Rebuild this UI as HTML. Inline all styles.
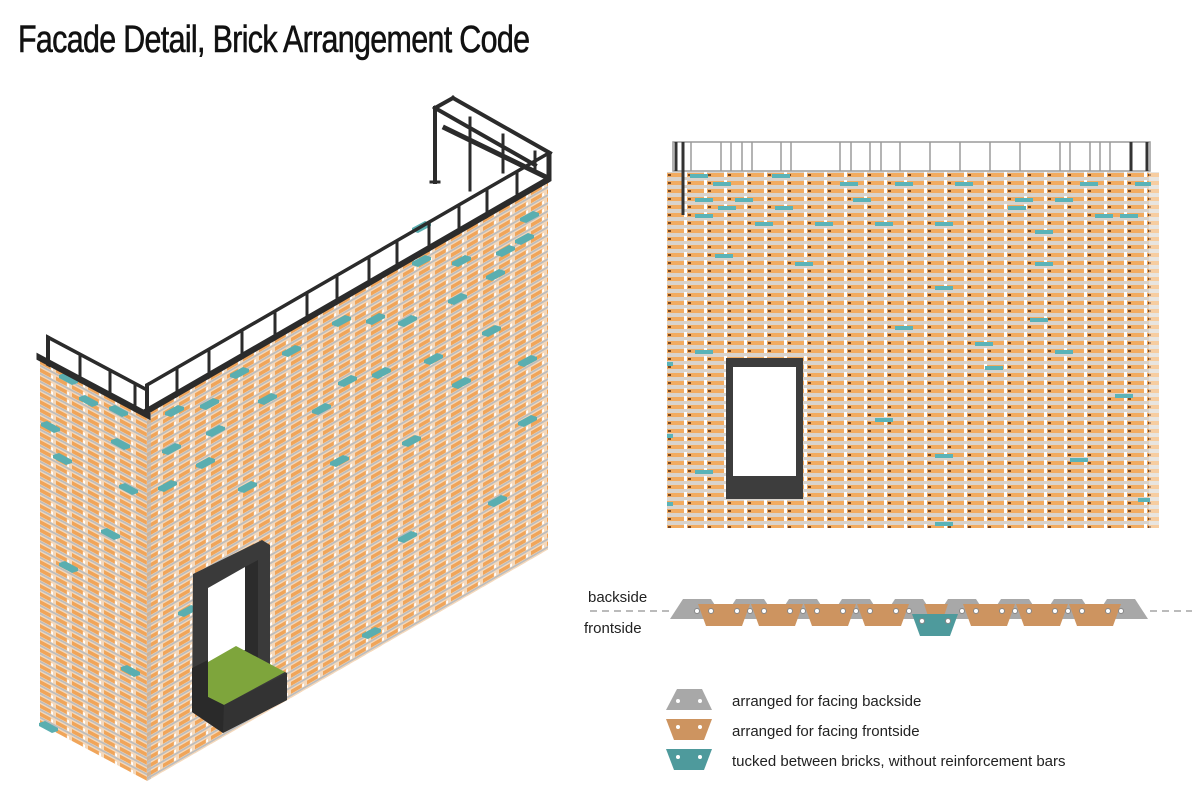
<!DOCTYPE html>
<html><head><meta charset="utf-8"><style>
html,body{margin:0;padding:0;background:#fff;}
svg{display:block;}
text{font-family:"Liberation Sans",sans-serif;}
</style></head><body>
<svg width="1200" height="785" viewBox="0 0 1200 785" xmlns="http://www.w3.org/2000/svg">
<defs>
<pattern id="elev" x="667" y="172" width="20" height="8" patternUnits="userSpaceOnUse">
<rect width="20" height="8" fill="#d9d3cc"/>
<rect x="0" y="1" width="17" height="4" fill="#f2ab60"/>
<rect x="17" y="0" width="3" height="5" fill="#fff"/>
<rect x="1" y="2" width="3" height="2" fill="#7a4a25"/>
</pattern>
<pattern id="iso" width="16" height="8" patternUnits="userSpaceOnUse">
<rect width="16" height="8" fill="#f4d8bb"/>
<rect x="0" y="0" width="11" height="4" fill="#f0a55a"/>
<rect x="0" y="4.5" width="16" height="2" fill="#bdbdbd"/>
<rect x="11" y="1" width="2" height="3" fill="#fff"/>
</pattern>
<polygon id="tf" points="0,0 13,-7 19,-5 19,-2 6,5 0,3" fill="#5aaeb0"/>
<polygon id="tl" points="0,0 -13,-7 -19,-5 -19,-2 -6,5 0,3" fill="#5aaeb0"/>
</defs>

<text x="18" y="52" font-size="38" fill="#111" stroke="#111" stroke-width="0.6" transform="translate(18,0) scale(0.8,1) translate(-18,0)" textLength="640">Facade Detail, Brick Arrangement Code</text>

<!-- ISO left face -->
<g transform="translate(40,360) skewY(28)">
<rect x="0" y="0" width="107" height="364" fill="url(#iso)"/>
</g>
<!-- ISO front face -->
<g transform="translate(147,413) skewY(-30)">
<rect x="0" y="0" width="401" height="368" fill="url(#iso)"/>
<rect x="0" y="0" width="4" height="368" fill="#bbb" opacity="0.6"/>
</g>
<!-- teal on front -->
<g>
<use href="#tf" x="165" y="412"/><use href="#tf" x="200" y="405"/><use href="#tf" x="230" y="374"/>
<use href="#tf" x="282" y="352"/><use href="#tf" x="332" y="322"/><use href="#tf" x="366" y="320"/>
<use href="#tf" x="398" y="322"/><use href="#tf" x="448" y="300"/><use href="#tf" x="486" y="276"/>
<use href="#tf" x="515" y="240"/><use href="#tf" x="162" y="450"/><use href="#tf" x="206" y="432"/>
<use href="#tf" x="258" y="400"/><use href="#tf" x="312" y="410"/><use href="#tf" x="338" y="382"/>
<use href="#tf" x="372" y="374"/><use href="#tf" x="424" y="360"/><use href="#tf" x="482" y="332"/>
<use href="#tf" x="496" y="252"/><use href="#tf" x="412" y="262"/><use href="#tf" x="452" y="262"/>
<use href="#tf" x="158" y="487"/><use href="#tf" x="238" y="488"/><use href="#tf" x="330" y="462"/>
<use href="#tf" x="402" y="442"/><use href="#tf" x="452" y="384"/><use href="#tf" x="518" y="362"/>
<use href="#tf" x="518" y="422"/><use href="#tf" x="488" y="502"/><use href="#tf" x="398" y="538"/>
<use href="#tf" x="178" y="612"/><use href="#tf" x="362" y="634"/><use href="#tf" x="196" y="464"/>
<use href="#tf" x="412" y="228"/><use href="#tf" x="520" y="218"/>
</g>
<!-- teal on left -->
<g>
<use href="#tl" x="78" y="380"/><use href="#tl" x="98" y="402"/><use href="#tl" x="128" y="412"/>
<use href="#tl" x="60" y="428"/><use href="#tl" x="130" y="445"/><use href="#tl" x="138" y="490"/>
<use href="#tl" x="72" y="460"/><use href="#tl" x="78" y="568"/><use href="#tl" x="140" y="672"/>
<use href="#tl" x="58" y="728"/><use href="#tl" x="120" y="535"/>
</g>

<!-- railing -->
<g stroke="#2b2b2b" fill="none" stroke-linecap="square">
<line x1="453" y1="98" x2="550" y2="153" stroke-width="4"/>
<line x1="435" y1="108" x2="535" y2="165" stroke-width="4"/>
<line x1="435" y1="108" x2="453" y2="98" stroke-width="4"/>
<line x1="445" y1="128" x2="548" y2="178" stroke-width="5"/>
<line x1="435" y1="108" x2="435" y2="182" stroke-width="4"/>
<line x1="431" y1="182" x2="439" y2="182" stroke-width="3"/>
<line x1="470" y1="118" x2="470" y2="190" stroke-width="3"/>
<line x1="503" y1="135" x2="503" y2="172" stroke-width="3"/>
<line x1="535" y1="152" x2="535" y2="168" stroke-width="3"/>
<line x1="550" y1="153" x2="550" y2="178" stroke-width="3"/>
<g transform="translate(147,413) skewY(-30)">
<line x1="0" y1="-28" x2="401" y2="-28" stroke-width="4"/>
<line x1="0" y1="-2" x2="401" y2="-2" stroke-width="7"/>
<line x1="0" y1="-28" x2="0" y2="0" stroke-width="4"/>
<line x1="30" y1="-28" x2="30" y2="0" stroke-width="3"/>
<line x1="62" y1="-28" x2="62" y2="0" stroke-width="3"/>
<line x1="95" y1="-28" x2="95" y2="0" stroke-width="3"/>
<line x1="128" y1="-28" x2="128" y2="0" stroke-width="3"/>
<line x1="160" y1="-28" x2="160" y2="0" stroke-width="3"/>
<line x1="190" y1="-28" x2="190" y2="0" stroke-width="3"/>
<line x1="222" y1="-28" x2="222" y2="0" stroke-width="3"/>
<line x1="250" y1="-28" x2="250" y2="0" stroke-width="3"/>
<line x1="282" y1="-28" x2="282" y2="0" stroke-width="3"/>
<line x1="312" y1="-28" x2="312" y2="0" stroke-width="3"/>
<line x1="340" y1="-28" x2="340" y2="0" stroke-width="3"/>
<line x1="370" y1="-28" x2="370" y2="0" stroke-width="3"/>
<line x1="401" y1="-28" x2="401" y2="0" stroke-width="3"/>
</g>
<g transform="translate(40,360) skewY(28)">
<line x1="8" y1="-27" x2="107" y2="-27" stroke-width="4"/>
<line x1="0" y1="-2" x2="107" y2="-2" stroke-width="7"/>
<line x1="8" y1="-27" x2="8" y2="0" stroke-width="4"/>
<line x1="40" y1="-27" x2="40" y2="0" stroke-width="3"/>
<line x1="70" y1="-27" x2="70" y2="0" stroke-width="3"/>
<line x1="95" y1="-27" x2="95" y2="0" stroke-width="3"/>
</g>
</g>

<!-- door -->
<polygon points="193,574 262,540 270,545 270,665 287,673 287,700 223,733 192,712" fill="#3a3a3a"/>
<polygon points="208,588 245,567 245,650 208,664" fill="#fff"/>
<polygon points="245,567 258,560 258,660 245,655" fill="#2c2c2c"/>
<polygon points="208,662 236,646 285,672 224,705 208,697" fill="#7ea53c"/>
<polygon points="224,705 287,673 287,700 223,733" fill="#333"/>
<polygon points="192,712 223,733 224,705 208,697 208,660 192,668" fill="#2a2a2a"/>

<!-- ELEVATION -->
<rect x="667" y="172" width="482" height="356" fill="url(#elev)"/>
<rect x="1149" y="172" width="10" height="356" fill="url(#elev)" opacity="0.6"/>
<g fill="#5ab3b8">
<rect x="690" y="174" width="18" height="4"/><rect x="772" y="174" width="18" height="4"/>
<rect x="713" y="182" width="18" height="4"/><rect x="840" y="182" width="18" height="4"/>
<rect x="895" y="182" width="18" height="4"/><rect x="955" y="182" width="18" height="4"/>
<rect x="1080" y="182" width="18" height="4"/><rect x="1135" y="182" width="16" height="4"/>
<rect x="695" y="198" width="18" height="4"/><rect x="735" y="198" width="18" height="4"/>
<rect x="853" y="198" width="18" height="4"/><rect x="1015" y="198" width="18" height="4"/>
<rect x="1055" y="198" width="18" height="4"/><rect x="718" y="206" width="18" height="4"/>
<rect x="775" y="206" width="18" height="4"/><rect x="1008" y="206" width="18" height="4"/>
<rect x="695" y="214" width="18" height="4"/><rect x="1095" y="214" width="18" height="4"/>
<rect x="1120" y="214" width="18" height="4"/><rect x="755" y="222" width="18" height="4"/>
<rect x="815" y="222" width="18" height="4"/><rect x="875" y="222" width="18" height="4"/>
<rect x="935" y="222" width="18" height="4"/><rect x="1035" y="230" width="18" height="4"/>
<rect x="715" y="254" width="18" height="4"/><rect x="795" y="262" width="18" height="4"/>
<rect x="1035" y="262" width="18" height="4"/><rect x="935" y="286" width="18" height="4"/>
<rect x="1030" y="318" width="18" height="4"/><rect x="895" y="326" width="18" height="4"/>
<rect x="975" y="342" width="18" height="4"/><rect x="695" y="350" width="18" height="4"/>
<rect x="1055" y="350" width="18" height="4"/><rect x="985" y="366" width="18" height="4"/>
<rect x="1115" y="394" width="18" height="4"/><rect x="875" y="418" width="18" height="4"/>
<rect x="935" y="454" width="18" height="4"/><rect x="1070" y="458" width="18" height="4"/>
<rect x="695" y="470" width="18" height="4"/><rect x="1138" y="498" width="12" height="4"/>
<rect x="935" y="522" width="18" height="4"/><rect x="667" y="362" width="6" height="4"/>
<rect x="667" y="434" width="6" height="4"/><rect x="667" y="502" width="6" height="4"/>
</g>
<g stroke="#9a9a9a" stroke-width="1.5" fill="none">
<rect x="673" y="142" width="477" height="29"/>
<line x1="691" y1="142" x2="691" y2="171"/><line x1="721" y1="142" x2="721" y2="171"/>
<line x1="731" y1="142" x2="731" y2="171"/><line x1="742" y1="142" x2="742" y2="171"/>
<line x1="752" y1="142" x2="752" y2="171"/><line x1="781" y1="142" x2="781" y2="171"/>
<line x1="791" y1="142" x2="791" y2="171"/><line x1="840" y1="142" x2="840" y2="171"/>
<line x1="851" y1="142" x2="851" y2="171"/><line x1="870" y1="142" x2="870" y2="171"/>
<line x1="881" y1="142" x2="881" y2="171"/><line x1="900" y1="142" x2="900" y2="171"/>
<line x1="930" y1="142" x2="930" y2="171"/><line x1="960" y1="142" x2="960" y2="171"/>
<line x1="990" y1="142" x2="990" y2="171"/><line x1="1020" y1="142" x2="1020" y2="171"/>
<line x1="1060" y1="142" x2="1060" y2="171"/><line x1="1070" y1="142" x2="1070" y2="171"/>
<line x1="1090" y1="142" x2="1090" y2="171"/><line x1="1100" y1="142" x2="1100" y2="171"/>
<line x1="1110" y1="142" x2="1110" y2="171"/>
</g>
<g stroke="#333" stroke-width="3">
<line x1="676" y1="142" x2="676" y2="171"/><line x1="683" y1="142" x2="683" y2="215"/>
<line x1="1131" y1="142" x2="1131" y2="171"/><line x1="1147" y1="142" x2="1147" y2="171"/>
</g>
<rect x="726" y="358" width="77" height="141" fill="#3d3d3d"/>
<rect x="733" y="367" width="63" height="109" fill="#fff"/>

<!-- SECTION -->
<text x="588" y="602" font-size="15" fill="#222">backside</text>
<text x="584" y="633" font-size="15" fill="#222">frontside</text>
<g stroke="#777" stroke-width="1" stroke-dasharray="7,5">
<line x1="590" y1="611" x2="670" y2="611"/><line x1="1150" y1="611" x2="1192" y2="611"/>
</g>
<g fill="#a8a8a8">
<polygon points="683,599 711,599 724,619 670,619"/>
<polygon points="736,599 764,599 777,619 723,619"/>
<polygon points="789,599 817,599 830,619 776,619"/>
<polygon points="842,599 870,599 883,619 829,619"/>
<polygon points="895,599 923,599 936,619 882,619"/>
<polygon points="948,599 976,599 989,619 935,619"/>
<polygon points="1001,599 1029,599 1042,619 988,619"/>
<polygon points="1054,599 1082,599 1095,619 1041,619"/>
<polygon points="1107,599 1135,599 1148,619 1094,619"/>
</g>
<g fill="#cd9460">
<polygon points="698,604 750,604 742,626 706,626"/>
<polygon points="751,604 803,604 795,626 759,626"/>
<polygon points="804,604 856,604 848,626 812,626"/>
<polygon points="857,604 909,604 901,626 865,626"/>
<polygon points="924,604 948,604 944,616 928,616"/>
<polygon points="963,604 1015,604 1007,626 971,626"/>
<polygon points="1016,604 1068,604 1060,626 1024,626"/>
<polygon points="1069,604 1121,604 1113,626 1077,626"/>
</g>
<polygon points="912,614 958,614 950,636 920,636" fill="#4e9a9c"/>
<g fill="#fff" stroke="#888" stroke-width="1">
<circle cx="697" cy="611" r="2.5"/><circle cx="750" cy="611" r="2.5"/><circle cx="803" cy="611" r="2.5"/>
<circle cx="856" cy="611" r="2.5"/><circle cx="909" cy="611" r="2.5"/><circle cx="962" cy="611" r="2.5"/>
<circle cx="1015" cy="611" r="2.5"/><circle cx="1068" cy="611" r="2.5"/><circle cx="1121" cy="611" r="2.5"/>
<circle cx="711" cy="611" r="2.5"/><circle cx="737" cy="611" r="2.5"/><circle cx="764" cy="611" r="2.5"/>
<circle cx="790" cy="611" r="2.5"/><circle cx="817" cy="611" r="2.5"/><circle cx="843" cy="611" r="2.5"/>
<circle cx="870" cy="611" r="2.5"/><circle cx="896" cy="611" r="2.5"/><circle cx="976" cy="611" r="2.5"/>
<circle cx="1002" cy="611" r="2.5"/><circle cx="1029" cy="611" r="2.5"/><circle cx="1055" cy="611" r="2.5"/>
<circle cx="1082" cy="611" r="2.5"/><circle cx="1108" cy="611" r="2.5"/>
<circle cx="922" cy="621" r="2.5"/><circle cx="948" cy="621" r="2.5"/>
</g>

<!-- LEGEND -->
<polygon points="677,689 702,689 712,710 666,710" fill="#a8a8a8"/>
<polygon points="666,719 712,719 704,740 674,740" fill="#cd9460"/>
<polygon points="666,749 712,749 704,770 674,770" fill="#4e9a9c"/>
<g fill="#fff">
<circle cx="678" cy="701" r="2"/><circle cx="700" cy="701" r="2"/>
<circle cx="678" cy="727" r="2"/><circle cx="700" cy="727" r="2"/>
<circle cx="678" cy="757" r="2"/><circle cx="700" cy="757" r="2"/>
</g>
<text x="732" y="706" font-size="15" fill="#222">arranged for facing backside</text>
<text x="732" y="736" font-size="15" fill="#222">arranged for facing frontside</text>
<text x="732" y="766" font-size="15" fill="#222">tucked between bricks, without reinforcement bars</text>
</svg>
</body></html>
